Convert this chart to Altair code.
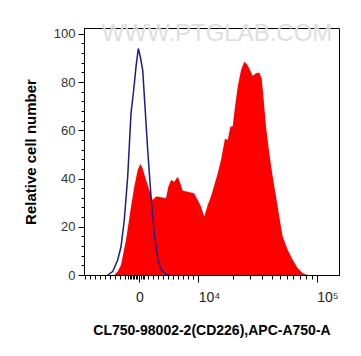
import altair as alt
import pandas as pd

# Display-channel positions (biexponential axis drawn as linear channel 0..255)
red_x = [30.3, 33.7, 37, 42, 47, 50.3, 53.7, 56.3, 58.7, 62, 65.3, 68.7, 72, 77, 82,
         84.3, 87, 90.3, 93.7, 96.3, 98.7, 103.7, 110.3, 113.7, 117, 120.3, 123.7, 127,
         130.3, 133.7, 137, 141, 143.7, 146.3, 148.7, 151, 153.7, 157, 160.3, 163, 165.3,
         168.7, 172, 175.3, 177.7, 179.7, 182, 185.3, 188.7, 192, 195.3, 198.7, 203.7,
         208.7, 213.7, 218.7, 223.7]
red_y = [0, 1.4, 4.1, 14.5, 28.3, 36.6, 43.5, 46.0, 44.2, 39.4, 35.2, 31.1, 32.5, 32.2, 31.8,
         36.6, 39.4, 38.7, 40.7, 38.0, 34.9, 34.5, 33.8, 31.1, 28.3, 24.2, 29.0, 32.5,
         37.3, 42.1, 47.7, 56.6, 55.9, 61.5, 61.7, 69.8, 78.0, 84.9, 88.4, 87.4, 85.6,
         82.5, 83.6, 83.8, 81.5, 72.5, 61.5, 50.4, 40.7, 32.5, 24.2, 15.9, 10.4,
         6.2, 2.8, 0.7, 0]

blue_x = [23.7, 28.7, 33.7, 37, 40.3, 43.7, 47, 49.7, 52, 54.3, 56.3, 58.7, 61, 63.7, 67,
          70.3, 73.7, 77, 82, 85.3]
blue_y = [0, 1.4, 6.2, 11.7, 22.8, 40.7, 67, 76.7, 86.3, 93.9, 90.5, 84.9, 69.8, 51.8, 32.5,
          17.3, 6.9, 2.1, 0.3, 0]

x_major_pos = [55.3, 114.3, 232.7]
x_major_lab = ["0", "10⁴", "10⁵"]
x_minor_pos = [1, 6, 11, 16, 21, 26, 31, 36, 41, 44, 45.5, 47, 48.5, 50, 51.5, 53, 57, 58.5, 60,
               64, 69, 74, 79, 84, 89, 94, 99, 104, 109,
               149, 166, 178, 188, 196, 203, 209, 216, 222, 228]
y_major = [0, 20, 40, 60, 80, 100]
y_minor = [v for v in range(0, 101, 4)]

red_df = pd.DataFrame({"x": red_x, "y": red_y})
blue_df = pd.DataFrame({"x": blue_x, "y": blue_y})
wm_df = pd.DataFrame({"t": ["WWW.PTGLAB.COM"]})

xscale = alt.Scale(domain=[0, 255], nice=False, zero=False)
yscale = alt.Scale(domain=[0, 102.4], nice=False)

label_expr = " : ".join(
    [f"datum.value == {p} ? '{l}'" for p, l in zip(x_major_pos, x_major_lab)]
) + " : ''"

FONT = "Liberation Sans"

red = alt.Chart(red_df).mark_area(color="#ff0000", opacity=1, interpolate="linear").encode(
    x=alt.X("x:Q", scale=xscale,
            axis=alt.Axis(values=x_major_pos, labelExpr=label_expr, orient="bottom",
                          tickSize=7, labelPadding=8, labelFontSize=14, labelColor="#222222",
                          labelFont=FONT,
                          labelAlign={"expr": "datum.value > 100 ? 'left' : 'center'"},
                          title="CL750-98002-2(CD226),APC-A750-A", titleFont=FONT,
                          titleFontSize=14, titleFontWeight="bold", titlePadding=19,
                          titleColor="#000000", grid=False, labelFlush=False)),
    y=alt.Y("y:Q", scale=yscale,
            axis=alt.Axis(values=y_major, orient="left", tickSize=6, labelPadding=3,
                          labelFontSize=13, labelColor="#333333", labelFont=FONT,
                          title="Relative cell number", titleFont=FONT, titleFontSize=15,
                          titleFontWeight="bold", titlePadding=15, titleColor="#000000",
                          grid=False, labelFlush=False)),
)

blue = alt.Chart(blue_df).mark_line(color="#1c1c8f", strokeWidth=1.5, interpolate="linear").encode(
    x=alt.X("x:Q", scale=xscale,
            axis=alt.Axis(values=x_minor_pos, labels=False, orient="bottom", tickSize=4,
                          title="", grid=False)),
    y=alt.Y("y:Q", scale=yscale,
            axis=alt.Axis(values=y_minor, labels=False, orient="left", tickSize=3,
                          title="", grid=False)),
)

wm = alt.Chart(wm_df).mark_text(font=FONT, fontSize=24, color="#dedede").encode(
    text="t:N", x=alt.value(133), y=alt.value(6)
)

chart = alt.layer(wm, red, blue).resolve_axis(x="independent", y="independent").properties(
    width=255, height=247,
    autosize=alt.AutoSizeParams(type="none"),
    padding={"left": 76, "top": 20, "right": 14, "bottom": 72},
).configure_view(stroke="#000000", strokeWidth=1).configure_axis(
    domainColor="#000000", tickColor="#000000", domainWidth=1, tickWidth=1
)

chart.save("out.html", embed_options={"renderer": "svg", "actions": False})
